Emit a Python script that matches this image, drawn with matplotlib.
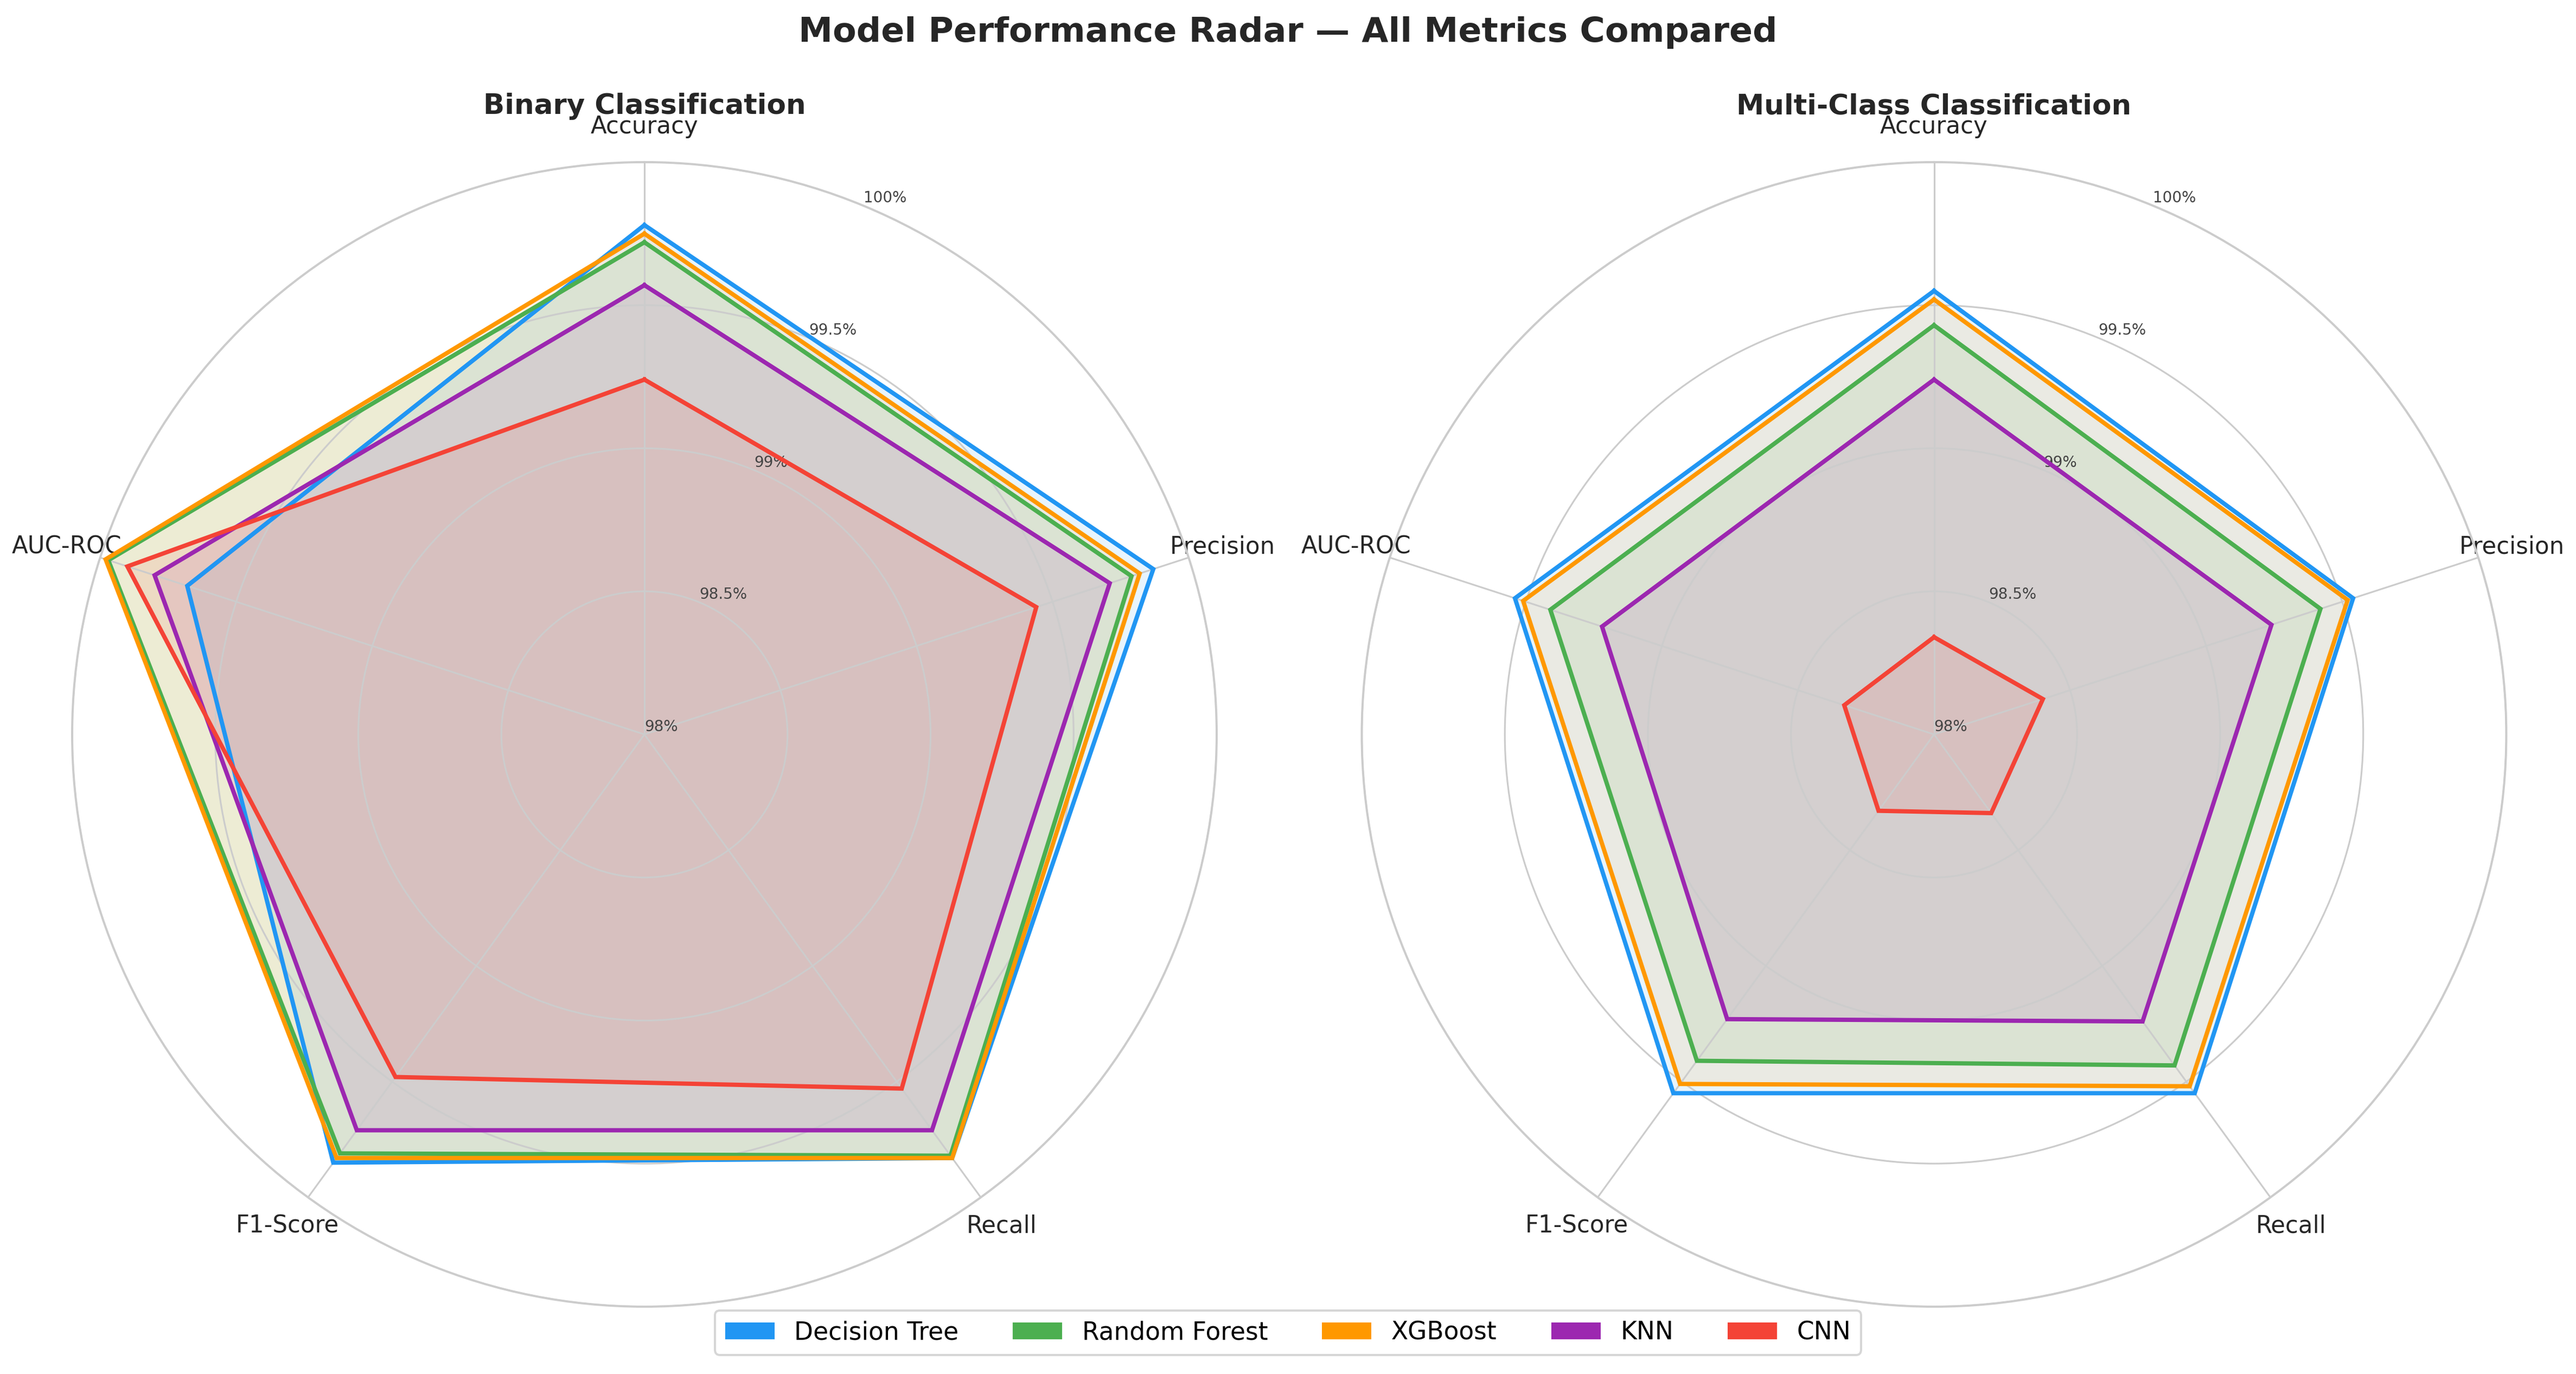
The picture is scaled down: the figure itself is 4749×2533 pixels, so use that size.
import numpy as np
import matplotlib.pyplot as plt
from matplotlib.patches import Patch

# metric axes and model names
metrics = ['Accuracy', 'Precision', 'Recall', 'F1-Score', 'AUC-ROC']
models = ['Decision Tree', 'Random Forest', 'XGBoost', 'KNN', 'CNN']
colors = ['#2196F3', '#4CAF50', '#FF9800', '#9C27B0', '#F44336']

# binary classification scores (%)
binary_dt = [99.78, 99.87, 99.83, 99.85, 99.68]
binary_rf = [99.72, 99.79, 99.82, 99.81, 99.97]
binary_xgb = [99.75, 99.82, 99.83, 99.83, 99.98]
binary_knn = [99.57, 99.71, 99.71, 99.71, 99.80]
binary_cnn = [99.24, 99.44, 99.53, 99.48, 99.90]

# multi-class classification scores (%)
multi_dt = [99.55, 99.54, 99.55, 99.55, 99.54]
multi_rf = [99.43, 99.42, 99.43, 99.41, 99.41]
multi_xgb = [99.52, 99.52, 99.52, 99.51, 99.51]
multi_knn = [99.24, 99.24, 99.24, 99.23, 99.22]
multi_cnn = [98.34, 98.40, 98.34, 98.33, 98.33]

r_ticks = [98, 98.5, 99, 99.5, 100]
r_ticklabels = ['98%', '98.5%', '99%', '99.5%', '100%']

TEXT = '#262626'
GRID = '#cccccc'


def draw_radar(ax, series, title):
    angles = np.linspace(0, 2 * np.pi, len(metrics), endpoint=False).tolist()
    angles += angles[:1]
    ax.set_theta_offset(np.pi / 2)
    ax.set_theta_direction(-1)

    for name, vals, c in zip(models, series, colors):
        v = list(vals) + list(vals[:1])
        ax.plot(angles, v, color=c, lw=2, solid_joinstyle='miter', label=name)
        ax.fill(angles, v, color=c, alpha=0.1, lw=0)

    ax.set_xticks(angles[:-1])
    ax.set_xticklabels(metrics, fontsize=11, color=TEXT)
    ax.tick_params(axis='x', pad=6)
    ax.set_ylim(98, 100)
    ax.set_yticks(r_ticks)
    ax.set_yticklabels(r_ticklabels, fontsize=7, color='#444444')
    ax.set_rlabel_position(22.5)
    ax.grid(color=GRID, lw=0.8)
    ax.spines['polar'].set_color(GRID)
    ax.spines['polar'].set_linewidth(1.0)
    ax.set_title(title, fontsize=13, fontweight='bold', color=TEXT, y=1.042, pad=0)


fig = plt.figure(figsize=(4749 / 285, 2533 / 285))
ax1 = fig.add_axes([0.02801, 0.049, 0.4443, 0.833], polar=True)
ax2 = fig.add_axes([0.52864, 0.049, 0.4443, 0.833], polar=True)

draw_radar(ax1, [binary_dt, binary_rf, binary_xgb, binary_knn, binary_cnn], 'Binary Classification')
draw_radar(ax2, [multi_dt, multi_rf, multi_xgb, multi_knn, multi_cnn], 'Multi-Class Classification')

fig.suptitle('Model Performance Radar \u2014 All Metrics Compared', fontsize=16,
             fontweight='bold', color=TEXT, y=0.988)

handles = [Patch(facecolor=c, label=m) for m, c in zip(models, colors)]
fig.legend(handles=handles, loc='lower center', bbox_to_anchor=(0.5, 0.005), ncol=5,
           fontsize=11.5, frameon=True, edgecolor=GRID, columnspacing=2.2)

fig.savefig('out.png', dpi=285)
